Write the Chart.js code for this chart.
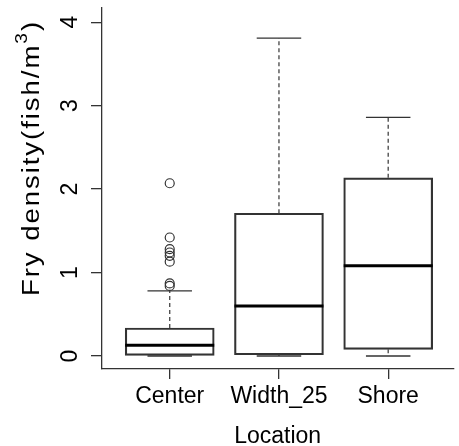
<!DOCTYPE html>
<html>
<head>
<meta charset="utf-8">
<script src="https://cdn.jsdelivr.net/npm/chart.js@4/dist/chart.umd.min.js"></script>
<style>
  html, body { margin: 0; padding: 0; background: #fff; }
</style>
</head>
<body>
<canvas id="boxChart" width="459" height="446"></canvas>
<script>
// fry density by location
var categories = ['Center', 'Width_25', 'Shore'];
var whiskerLow = [0, 0, 0];
var q1 = [0, 0.015, 0.08];
var median = [0.13, 0.60, 1.08];
var q3 = [0.335, 1.71, 2.135];
var whiskerHigh = [0.78, 3.81, 2.86];
var outliersCenter = [2.07, 1.42, 1.28, 1.24, 1.20, 1.13, 0.87, 0.84];
var yTicks = [0, 1, 2, 3, 4];

var BOX_W = 89;
var INK = '#333';
var FONT = "'Liberation Sans', Arial, sans-serif";

var boxData = categories.map(function (c, i) { return { x: i + 1, y: [q1[i], q3[i]] }; });
var outlierData = outliersCenter.map(function (v) { return { x: 1, y: v }; });

// whiskers, staples and medians, placed with the chart's own scales
var boxParts = {
  id: 'boxParts',
  afterDatasetsDraw: function (chart) {
    var ctx = chart.ctx, xs = chart.scales.x, ys = chart.scales.y;
    ctx.save();
    categories.forEach(function (c, i) {
      var cx = xs.getPixelForValue(i + 1);
      var yLo = ys.getPixelForValue(whiskerLow[i]);
      var yQ1 = ys.getPixelForValue(q1[i]);
      var yQ3 = ys.getPixelForValue(q3[i]);
      var yHi = ys.getPixelForValue(whiskerHigh[i]);
      var yMed = ys.getPixelForValue(median[i]);

      ctx.strokeStyle = '#444';
      ctx.lineWidth = 1.3;
      ctx.setLineDash([4, 3]);
      ctx.beginPath();
      ctx.moveTo(cx, yQ3); ctx.lineTo(cx, yHi);
      if (yLo - yQ1 > 1) { ctx.moveTo(cx, yQ1); ctx.lineTo(cx, yLo); }
      ctx.stroke();

      ctx.setLineDash([]);
      ctx.strokeStyle = INK;
      ctx.beginPath();
      ctx.moveTo(cx - BOX_W / 4, yHi); ctx.lineTo(cx + BOX_W / 4, yHi);
      ctx.moveTo(cx - BOX_W / 4, yLo); ctx.lineTo(cx + BOX_W / 4, yLo);
      ctx.stroke();

      ctx.strokeStyle = '#000';
      ctx.lineWidth = 3;
      ctx.beginPath();
      ctx.moveTo(cx - BOX_W / 2, yMed); ctx.lineTo(cx + BOX_W / 2, yMed);
      ctx.stroke();
    });
    ctx.restore();
  }
};

// y title with a raised 3, stretched along its length like the R label
var yTitle = {
  id: 'yTitle',
  afterDraw: function (chart) {
    var ctx = chart.ctx;
    var parts = [
      { t: 'Fry density(fish/m', size: 23, rise: 0 },
      { t: '3', size: 16, rise: 10 },
      { t: ')', size: 23, rise: 0 }
    ];
    ctx.save();
    ctx.translate(33, 158);
    ctx.rotate(-Math.PI / 2);
    ctx.scale(1.2, 1);
    ctx.fillStyle = '#000';
    ctx.textBaseline = 'middle';
    ctx.textAlign = 'left';
    ctx.letterSpacing = '1.6px';
    var total = 0;
    parts.forEach(function (p) {
      ctx.font = p.size + 'px ' + FONT;
      p.w = ctx.measureText(p.t).width;
      total += p.w;
    });
    var x = -total / 2;
    parts.forEach(function (p) {
      ctx.font = p.size + 'px ' + FONT;
      ctx.fillText(p.t, x, -p.rise);
      x += p.w;
    });
    ctx.restore();
  }
};

var ctx = document.getElementById('boxChart');
var boxChart = new Chart(ctx, {
  type: 'bar',
  data: {
    datasets: [
      {
        type: 'bar',
        data: boxData,
        backgroundColor: 'rgba(255,255,255,0)',
        borderColor: INK,
        borderWidth: 1.5,
        borderSkipped: false,
        barThickness: BOX_W
      },
      {
        type: 'scatter',
        data: outlierData,
        pointStyle: 'circle',
        pointRadius: 4.5,
        pointBorderWidth: 1.2,
        pointBorderColor: INK,
        pointBackgroundColor: 'rgba(255,255,255,0)'
      }
    ]
  },
  plugins: [boxParts, yTitle],
  options: {
    responsive: false,
    animation: false,
    layout: { padding: { top: 8, left: 0, right: 0, bottom: 0 } },
    plugins: { legend: { display: false }, tooltip: { enabled: false } },
    scales: {
      x: {
        type: 'linear',
        min: 0.38,
        max: 3.596,
        offset: false,
        afterBuildTicks: function (s) { s.ticks = categories.map(function (c, i) { return { value: i + 1 }; }); },
        afterFit: function (s) { s.height = 77; s.paddingLeft = 0; s.paddingRight = 0; },
        grid: { display: true, drawOnChartArea: false, offset: false, tickLength: 10, color: INK, lineWidth: 1.3 },
        border: { display: true, color: INK, width: 1.3 },
        ticks: {
          padding: 4,
          color: '#000',
          maxRotation: 0,
          autoSkip: false,
          font: { family: FONT, size: 23 },
          callback: function (v) { return categories[v - 1]; }
        },
        title: {
          display: true,
          text: 'Location',
          color: '#000',
          font: { family: FONT, size: 23, lineHeight: 0.85 },
          padding: { top: 0, bottom: 0 }
        }
      },
      y: {
        min: -0.156,
        max: 4.17,
        afterBuildTicks: function (s) { s.ticks = yTicks.map(function (v) { return { value: v }; }); },
        afterFit: function (s) { s.width = 102; s.paddingTop = 0; s.paddingBottom = 0; },
        grid: { display: true, drawOnChartArea: false, tickLength: 11, color: INK, lineWidth: 1.3 },
        border: { display: true, color: INK, width: 1.3 },
        ticks: {
          padding: 14,
          color: '#000',
          minRotation: 90,
          maxRotation: 90,
          crossAlign: 'center',
          font: { family: FONT, size: 23 }
        }
      }
    }
  }
});
</script>
</body>
</html>
